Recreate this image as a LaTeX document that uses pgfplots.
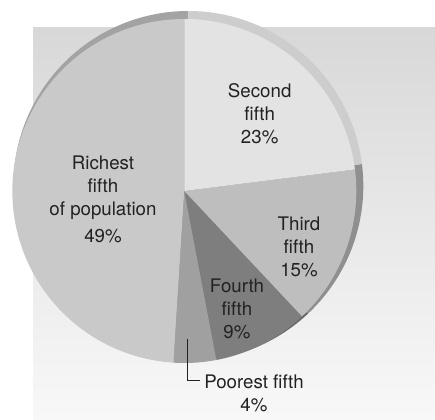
\documentclass[border=0pt]{standalone}
\usepackage{pgfplots}
\pgfplotsset{compat=1.18}
\usepackage{pgfplotstable}
\usepackage{fontspec}
\setmainfont{TeX Gyre Heros}
\definecolor{bgTop}{HTML}{D8D8D8}
\definecolor{bgBot}{HTML}{F8F8F8}
\definecolor{cRich}{HTML}{C9C9C9}
\definecolor{cRichRim}{HTML}{A3A3A3}
\definecolor{cSecond}{HTML}{E3E3E3}
\definecolor{cSecondRim}{HTML}{CDCDCD}
\definecolor{cThird}{HTML}{BEBEBE}
\definecolor{cThirdRim}{HTML}{8F8F8F}
\definecolor{cFourth}{HTML}{7E7E7E}
\definecolor{cFourthRim}{HTML}{6A6A6A}
\definecolor{cPoor}{HTML}{A0A0A0}
\definecolor{cPoorRim}{HTML}{888888}
\definecolor{txt}{HTML}{222222}

% shares of income, counter-clockwise from the top
\pgfplotstableread{
label   share
Richest 49
Poorest 4
Fourth  9
Third   15
Second  23
}\shares

\begin{document}
\begin{tikzpicture}
\pgfplotstablegetelem{0}{share}\of\shares \let\sA\pgfplotsretval
\pgfplotstablegetelem{1}{share}\of\shares \let\sB\pgfplotsretval
\pgfplotstablegetelem{2}{share}\of\shares \let\sC\pgfplotsretval
\pgfplotstablegetelem{3}{share}\of\shares \let\sD\pgfplotsretval
\pgfplotstablegetelem{4}{share}\of\shares \let\sE\pgfplotsretval
\pgfmathsetmacro{\aA}{90}
\pgfmathsetmacro{\aB}{\aA+3.6*\sA}
\pgfmathsetmacro{\aC}{\aB+3.6*\sB}
\pgfmathsetmacro{\aD}{\aC+3.6*\sC}
\pgfmathsetmacro{\aE}{\aD+3.6*\sD}
\pgfmathsetmacro{\aF}{\aE+3.6*\sE}
\def\cx{184.3}\def\cy{228}\def\R{172}
\def\rx{188.3}\def\ry{233}\def\RR{175}
\begin{axis}[
  width=435pt, height=419pt, scale only axis,
  xmin=0, xmax=435, ymin=0, ymax=419,
  hide axis, clip=false,
]
\path (axis cs:0,0) rectangle (axis cs:435,419);
\fill[top color=bgTop, bottom color=bgBot] (axis cs:33,0) rectangle (axis cs:435,391);
% rims
\addplot[draw=none, fill=cRichRim, domain=\aA:\aB, samples=150] ({\rx+\RR*cos(x)}, {\ry+\RR*sin(x)}) -- (axis cs:\rx,\ry) -- cycle;
\addplot[draw=none, fill=cPoorRim, domain=\aB:\aC, samples=20] ({\rx+\RR*cos(x)}, {\ry+\RR*sin(x)}) -- (axis cs:\rx,\ry) -- cycle;
\addplot[draw=none, fill=cFourthRim, domain=\aC:\aD, samples=40] ({\rx+\RR*cos(x)}, {\ry+\RR*sin(x)}) -- (axis cs:\rx,\ry) -- cycle;
\addplot[draw=none, fill=cThirdRim, domain=\aD:\aE, samples=60] ({\rx+\RR*cos(x)}, {\ry+\RR*sin(x)}) -- (axis cs:\rx,\ry) -- cycle;
\addplot[draw=none, fill=cSecondRim, domain=\aE:\aF, samples=80] ({\rx+\RR*cos(x)}, {\ry+\RR*sin(x)}) -- (axis cs:\rx,\ry) -- cycle;
% slices
\addplot[draw=none, fill=cRich, domain=\aA:\aB, samples=150] ({\cx+\R*cos(x)}, {\cy+\R*sin(x)}) -- (axis cs:\cx,\cy) -- cycle;
\addplot[draw=none, fill=cPoor, domain=\aB:\aC, samples=20] ({\cx+\R*cos(x)}, {\cy+\R*sin(x)}) -- (axis cs:\cx,\cy) -- cycle;
\addplot[draw=none, fill=cFourth, domain=\aC:\aD, samples=40] ({\cx+\R*cos(x)}, {\cy+\R*sin(x)}) -- (axis cs:\cx,\cy) -- cycle;
\addplot[draw=none, fill=cThird, domain=\aD:\aE, samples=60] ({\cx+\R*cos(x)}, {\cy+\R*sin(x)}) -- (axis cs:\cx,\cy) -- cycle;
\addplot[draw=none, fill=cSecond, domain=\aE:\aF, samples=80] ({\cx+\R*cos(x)}, {\cy+\R*sin(x)}) -- (axis cs:\cx,\cy) -- cycle;
% labels
\begin{scope}[every node/.style={font=\fontsize{18.7}{23}\selectfont, text=txt, align=center, inner sep=0pt}]
\node at (axis cs:259.7,305.7) {Second\\fifth\\23\%};
\node at (axis cs:103,219.5) {Richest\\fifth\\of population\\[4pt]49\%};
\node at (axis cs:299,172.5) {Third\\fifth\\15\%};
\node at (axis cs:237,110.5) {Fourth\\fifth\\9\%};
\node at (axis cs:254,25.5) {Poorest fifth\\4\%};
\end{scope}
\draw[line width=1pt, color=txt] (axis cs:187.7,80) -- (axis cs:187.7,38) -- (axis cs:200,38);
\end{axis}
\end{tikzpicture}
\end{document}
